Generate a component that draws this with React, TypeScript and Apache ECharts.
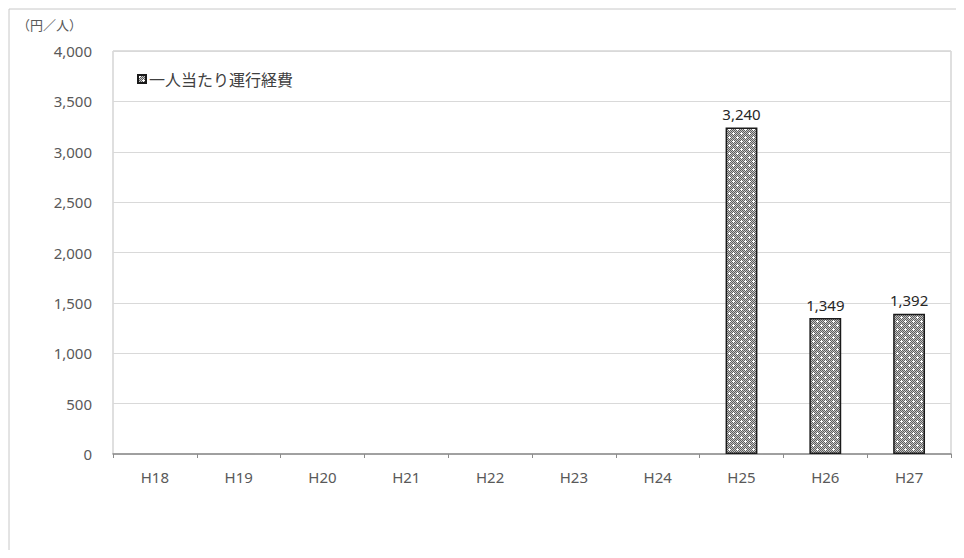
import React, { useEffect, useRef } from "react";
import * as echarts from "echarts";

const categories = ["H18", "H19", "H20", "H21", "H22", "H23", "H24", "H25", "H26", "H27"];
const costPerPerson: (number | null)[] = [null, null, null, null, null, null, null, 3240, 1349, 1392];
const seriesName = "一人当たり運行経費";
const unitLabel = "（円／人）";

function makePattern(): HTMLCanvasElement {
  const c = document.createElement("canvas");
  c.width = 8;
  c.height = 8;
  const ctx = c.getContext("2d")!;
  for (let y = 0; y < 8; y++) {
    for (let x = 0; x < 8; x++) {
      ctx.fillStyle = (x + y) % 2 === 0 ? "#5e5e5e" : "#c4c4c4";
      ctx.fillRect(x, y, 1, 1);
    }
  }
  ctx.fillStyle = "#ffffff";
  const dots = [
    [1, 1],
    [5, 5],
  ];
  for (const [dx, dy] of dots) {
    ctx.fillRect(dx, dy, 1, 1);
    ctx.fillRect(dx - 1, dy, 1, 1);
    ctx.fillRect(dx + 1, dy, 1, 1);
    ctx.fillRect(dx, dy - 1, 1, 1);
    ctx.fillRect(dx, dy + 1, 1, 1);
  }
  return c;
}

export default function App() {
  const ref = useRef<HTMLDivElement>(null);
  useEffect(() => {
    if (!ref.current) return;
    const chart = echarts.init(ref.current, undefined, { renderer: "svg" });
    const pattern = { image: makePattern(), repeat: "repeat" } as any;
    const font = "'Noto Sans', 'Noto Sans CJK JP', sans-serif";
    const cjk = "'Noto Sans CJK JP', sans-serif";
    chart.setOption({
      animation: false,
      textStyle: { fontFamily: font },
      graphic: [
        {
          type: "rect",
          shape: { x: 1, y: 1, width: 1000, height: 1000 },
          style: { fill: "none", stroke: "#c8c8c8", lineWidth: 1 },
          silent: true,
        },
        {
          type: "text",
          x: 9,
          y: 10,
          style: { text: unitLabel, fill: "#595959", fontSize: 13, fontFamily: cjk },
        },
      ],
      legend: {
        data: [seriesName],
        left: 124,
        top: 58,
        itemWidth: 8,
        itemHeight: 8,
        itemGap: 4,
        textStyle: { color: "#404040", fontSize: 16, fontFamily: cjk, padding: [0, 0, 0, -2] },
        icon: "rect",
      },
      grid: {
        left: 105,
        top: 43,
        right: 13,
        bottom: 96,
        show: true,
        borderColor: "#bfbfbf",
        borderWidth: 1,
      },
      xAxis: {
        type: "category",
        data: categories,
        axisLine: { lineStyle: { color: "#8c8c8c", width: 1.5 } },
        axisTick: { show: true, length: 4, lineStyle: { color: "#8c8c8c" } },
        axisLabel: { color: "#595959", fontSize: 15, margin: 15, fontFamily: font },
      },
      yAxis: {
        type: "value",
        min: 0,
        max: 4000,
        interval: 500,
        axisLine: { show: false },
        axisTick: { show: false },
        splitLine: { lineStyle: { color: "#d9d9d9", width: 1 } },
        axisLabel: {
          color: "#595959",
          fontSize: 15,
          margin: 21,
          fontFamily: font,
          formatter: (v: number) => v.toLocaleString("en-US"),
        },
      },
      series: [
        {
          name: seriesName,
          type: "bar",
          data: costPerPerson,
          barWidth: "38%",
          itemStyle: { color: pattern, borderColor: "#1a1a1a", borderWidth: 1.5 },
          label: {
            show: true,
            position: "top",
            distance: 6,
            color: "#262626",
            fontSize: 15,
            fontFamily: font,
            formatter: (p: any) => (p.value == null ? "" : Number(p.value).toLocaleString("en-US")),
          },
        },
      ],
    });
    return () => chart.dispose();
  }, []);
  return <div ref={ref} style={{ width: 956, height: 542 }} />;
}
